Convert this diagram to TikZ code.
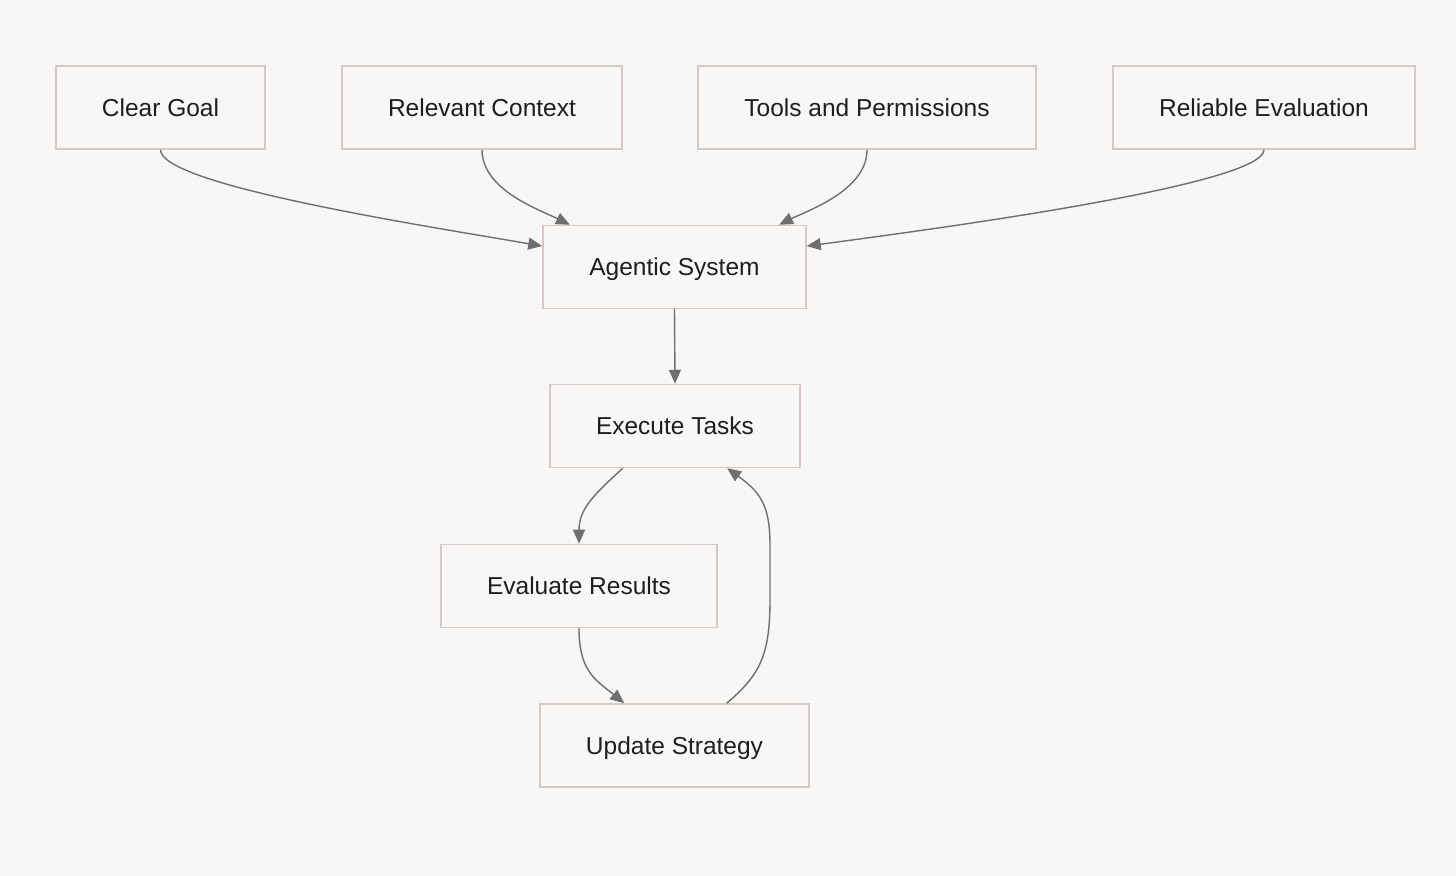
\documentclass[tikz,border=0pt]{standalone}
\usepackage{fontspec}
\setmainfont{Liberation Sans}
\usetikzlibrary{arrows.meta}
\definecolor{pagebg}{HTML}{F8F7F5}
\definecolor{boxline}{HTML}{D3CBC3}
\definecolor{edgeline}{HTML}{6F6F6F}
\definecolor{textcol}{HTML}{1E1E1E}
\tikzset{
  box/.style={draw=boxline, fill=pagebg, line width=0.75pt, text=textcol, minimum height=41.5pt,
    font=\fontsize{12.25}{15}\selectfont, inner sep=0pt, text height=0.86em, text depth=0pt},
  flow/.style={draw=edgeline, line width=0.7pt, -{Triangle[length=7pt,width=6pt]}}
}
\begin{document}
\begin{tikzpicture}[x=0.5pt,y=0.5pt,yscale=-1,xscale=1]
%set diagram to the size of the page
\path[fill=pagebg] (0,0) rectangle (1456,876);
\useasboundingbox (0,0) rectangle (1456,876);

% Text Node
\node[box, minimum width=104.5pt] (goal) at (160.5,107.5) {Clear Goal};
% Text Node
\node[box, minimum width=140pt] (context) at (482,107.5) {Relevant Context};
% Text Node
\node[box, minimum width=169pt] (tools) at (867,107.5) {Tools and Permissions};
% Text Node
\node[box, minimum width=151pt] (evaluation) at (1264,107.5) {Reliable Evaluation};
% Text Node
\node[box, minimum width=131.5pt] (agent) at (674.5,267) {Agentic System};
% Text Node
\node[box, minimum width=125pt] (execute) at (675,426) {Execute Tasks};
% Text Node
\node[box, minimum width=138pt] (results) at (579,586) {Evaluate Results};
% Text Node
\node[box, minimum width=134.5pt] (update) at (674.5,745.5) {Update Strategy};

%Curve Lines
\draw[flow] (goal.south) .. controls (160.5,185) and (420,225) .. (agent.171);
%Curve Lines
\draw[flow] (context.south) .. controls (482,190) and (540,210) .. (agent.158);
%Curve Lines
\draw[flow] (tools.south) .. controls (867,190) and (809,210) .. (agent.22);
%Curve Lines
\draw[flow] (evaluation.south) .. controls (1264,185) and (935,229) .. (agent.9);
%Straight Lines
\draw[flow] (agent.south) -- (execute.north);
%Curve Lines
\draw[flow] (execute.219) .. controls (592,496) and (579,510) .. (results.north);
%Curve Lines
\draw[flow] (results.south) .. controls (579,672) and (596,680) .. (update.140);
%Curve Lines
\draw[flow] (update.39) .. controls (760,675) and (770,655) .. (770,600) -- (770,545) .. controls (770,505) and (760,492) .. (execute.-39);

\end{tikzpicture}
\end{document}
